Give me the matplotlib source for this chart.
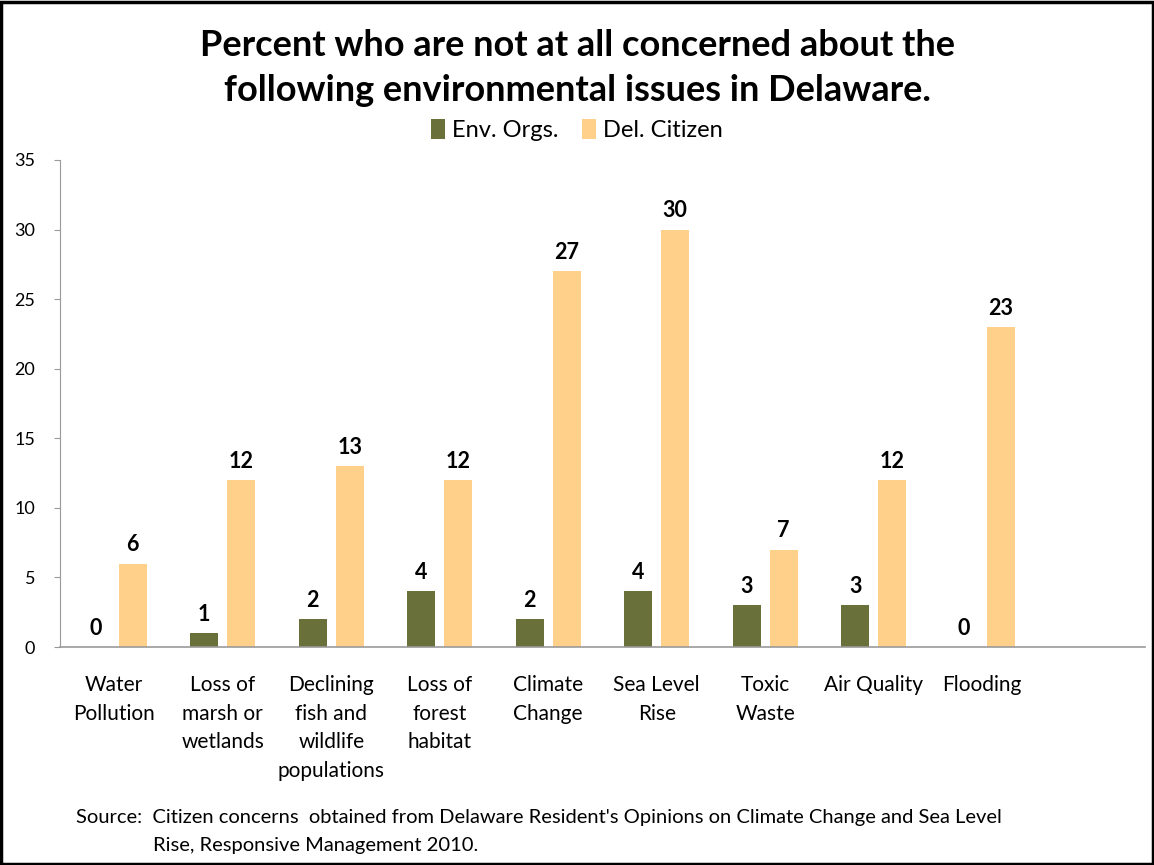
import numpy as np
import matplotlib.pyplot as plt
from matplotlib.patches import Rectangle

categories = ['Water\nPollution', 'Loss of\nmarsh or\nwetlands', 'Declining\nfish and\nwildlife\npopulations',
              'Loss of\nforest\nhabitat', 'Climate\nChange', 'Sea Level\nRise', 'Toxic\nWaste',
              'Air Quality', 'Flooding']
env_orgs = [0, 1, 2, 4, 2, 4, 3, 3, 0]
del_citizen = [6, 12, 13, 12, 27, 30, 7, 12, 23]

green = '#69703A'
tan = '#FFD08A'

plt.rcParams['font.family'] = ['Lato', 'DejaVu Sans']

fig = plt.figure(figsize=(11.54, 8.65), dpi=100)
ax = fig.add_axes([60 / 1154, 1 - 647 / 865, 1085 / 1154, 487 / 865])

x = np.arange(len(categories))
w = 0.26
off = 0.17
b1 = ax.bar(x - off, env_orgs, w, color=green, label='Env. Orgs.')
b2 = ax.bar(x + off, del_citizen, w, color=tan, label='Del. Citizen')

for rect, v in zip(b1, env_orgs):
    ax.text(rect.get_x() + rect.get_width() / 2, v + 0.6, str(v), ha='center', va='bottom',
            fontsize=15.5, fontweight='bold')
for rect, v in zip(b2, del_citizen):
    ax.text(rect.get_x() + rect.get_width() / 2, v + 0.6, str(v), ha='center', va='bottom',
            fontsize=15.5, fontweight='bold')

ax.set_xlim(-0.5, 9.5)
ax.set_ylim(0, 35)
ax.set_yticks(range(0, 36, 5))
ax.set_xticks(x)
ax.set_xticklabels(categories, fontsize=15, va='top', linespacing=1.55)
ax.tick_params(axis='x', length=0, pad=20)
ax.tick_params(axis='y', labelsize=13, length=4, color='#999999', pad=14)
for s in ['top', 'right']:
    ax.spines[s].set_visible(False)
ax.spines['left'].set_color('#999999')
ax.spines['bottom'].set_color('#999999')
ax.spines['bottom'].set_linewidth(1.2)

fig.text(0.5, 1 - 68 / 865, 'Percent who are not at all concerned about the\nfollowing environmental issues in Delaware.',
         ha='center', va='center', fontsize=26, fontweight='bold', linespacing=1.45)
fig.legend(handles=[b1, b2], loc='center', bbox_to_anchor=(0.5, 1 - 130 / 865), ncol=2, frameon=False,
           fontsize=17, handlelength=0.6, handleheight=0.9, handletextpad=0.3, columnspacing=1.0)

fig.text(76 / 1154, 1 - 818 / 865, 'Source:  Citizen concerns  obtained from Delaware Resident\'s Opinions on Climate Change and Sea Level',
         ha='left', va='center', fontsize=14.5)
fig.text(153 / 1154, 1 - 846 / 865, 'Rise, Responsive Management 2010.', ha='left', va='center', fontsize=14.5)

fig.patches.append(Rectangle((0.001, 0.001), 0.998, 0.997, transform=fig.transFigure, fill=False,
                             edgecolor='black', linewidth=2.5))

fig.savefig('out.png', dpi=100)
